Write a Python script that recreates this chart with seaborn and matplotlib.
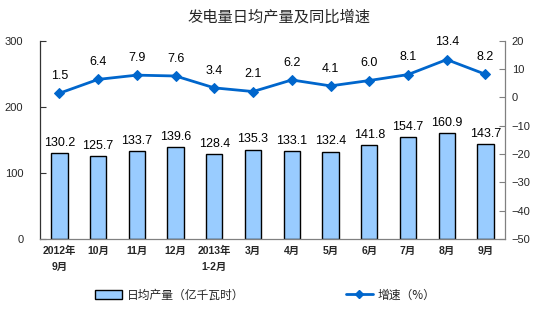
import numpy as np
import pandas as pd
import matplotlib
matplotlib.use("Agg")
import matplotlib.pyplot as plt
import seaborn as sns
from matplotlib.patches import Patch
from matplotlib.lines import Line2D

months = ["2012年\n9月", "10月", "11月", "12月", "2013年\n1-2月", "3月",
          "4月", "5月", "6月", "7月", "8月", "9月"]
daily_output = [130.2, 125.7, 133.7, 139.6, 128.4, 135.3,
                133.1, 132.4, 141.8, 154.7, 160.9, 143.7]
growth_rate = [1.5, 6.4, 7.9, 7.6, 3.4, 2.1, 6.2, 4.1, 6.0, 8.1, 13.4, 8.2]

bar_color = "#99CCFF"
line_color = "#0066CC"
axis_color = "#808080"

sns.set_theme(style="white")
plt.rcParams["font.family"] = ["Liberation Sans", "Noto Sans CJK SC", "DejaVu Sans"]

df = pd.DataFrame({"month": months, "output": daily_output, "growth": growth_rate})
df["pos"] = np.arange(len(df))

fig = plt.figure(figsize=(5.58, 3.30), dpi=100)
ax = fig.add_axes([0.0717, 0.276, 0.833, 0.600])

sns.barplot(data=df, x="month", y="output", color=bar_color, edgecolor="black",
            linewidth=1.0, width=0.42, saturation=1, ax=ax)
ax.set_ylim(0, 300)
ax.set_yticks([0, 100, 200, 300])
ax.set_xlim(-0.5, len(df) - 0.5)
ax.set_xlabel("")
ax.set_ylabel("")

for i, v in enumerate(daily_output):
    ax.annotate(f"{v:.1f}", (i, v), xytext=(0, 3), textcoords="offset points",
                ha="center", va="bottom", fontsize=9, color="black")

ax2 = ax.twinx()
sns.lineplot(data=df, x="pos", y="growth", color=line_color, linewidth=2.0,
             marker="D", markersize=5, markeredgecolor=line_color, ax=ax2)
ax2.set_ylim(-50, 20)
ax2.set_yticks(np.arange(-50, 21, 10))
ax2.set_xlim(-0.5, len(df) - 0.5)
ax2.set_xlabel("")
ax2.set_ylabel("")

for i, v in enumerate(growth_rate):
    ax2.annotate(f"{v:.1f}", (i, v), xytext=(0, 8), textcoords="offset points",
                 ha="center", va="bottom", fontsize=9, color="black")

# category labels centred under bars, tick marks on the boundaries
ax.set_xticks(np.arange(len(df)))
ax.set_xticklabels(months, fontsize=7.5, fontweight="bold",
                   family=["Liberation Sans", "Noto Sans CJK SC"], linespacing=1.75)
ax.tick_params(axis="x", which="major", length=0, pad=5, labelbottom=True)
ax.set_xticks(np.arange(-0.5, len(df) + 0.5, 1), minor=True)
ax.tick_params(axis="x", which="minor", direction="in", length=3, color=axis_color, width=0.8)
ax.tick_params(axis="y", direction="in", length=4, color="#333333", width=0.8,
               labelsize=8, pad=12)
ax2.tick_params(axis="y", direction="in", length=4, color=axis_color, width=0.8,
                labelsize=8, pad=5)

for a in (ax, ax2):
    for s in a.spines.values():
        s.set_visible(False)
ax.spines["left"].set_visible(True)
ax.spines["left"].set_color("#333333")
ax.spines["bottom"].set_visible(True)
ax.spines["bottom"].set_color(axis_color)
ax2.spines["right"].set_visible(True)
ax2.spines["right"].set_color(axis_color)
for s in ("left", "bottom"):
    ax.spines[s].set_linewidth(0.9)
ax2.spines["right"].set_linewidth(0.9)

fig.text(0.5, 0.948, "发电量日均产量及同比增速", ha="center", va="center",
         fontsize=11, family=["Noto Sans CJK SC"])

handles = [Patch(facecolor=bar_color, edgecolor="black", linewidth=1.0),
           Line2D([0], [0], color=line_color, linewidth=2.0, marker="D", markersize=4)]
fig.legend(handles, ["日均产量（亿千瓦时）", "增速（%）"], loc="center",
           bbox_to_anchor=(0.475, 0.106), ncol=2, frameon=False,
           handlelength=2.3, handleheight=0.7, columnspacing=8.6, handletextpad=0.4,
           prop={"family": ["Noto Sans CJK SC"], "size": 8.5})

fig.savefig("out.png", dpi=100)
